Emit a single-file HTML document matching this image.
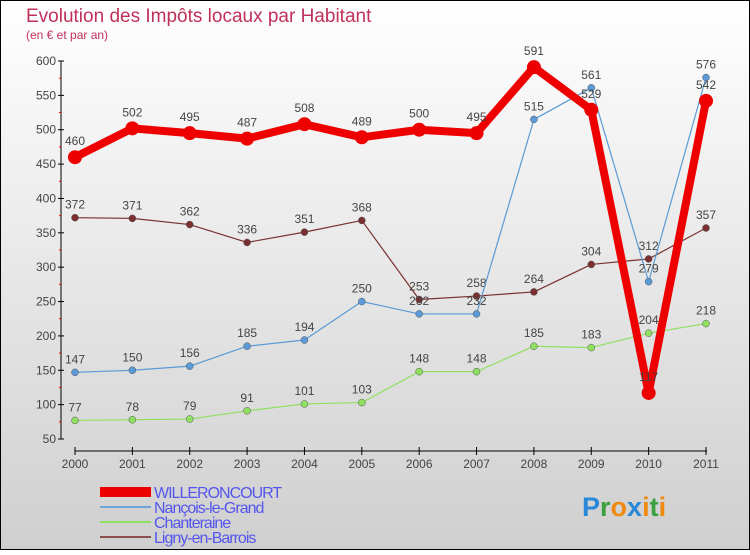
<!DOCTYPE html>
<html><head><meta charset="utf-8"><style>
html,body{margin:0;padding:0;}
body{width:750px;height:550px;overflow:hidden;font-family:"Liberation Sans",sans-serif;}
</style></head><body>
<svg id="chart" width="750" height="550" xmlns="http://www.w3.org/2000/svg">
<defs><linearGradient id="bg" x1="0" y1="0" x2="0" y2="1"><stop offset="0" stop-color="#ffffff"/><stop offset="1" stop-color="#cfcfcf"/></linearGradient></defs>
<rect x="0.5" y="0.5" width="749" height="549" fill="url(#bg)" stroke="#000" stroke-width="1"/>
<text x="26" y="22" font-size="19" fill="#c0305a">Evolution des Impôts locaux par Habitant</text>
<text x="26" y="39" font-size="12" fill="#c0305a">(en € et par an)</text>
<g id="axes"></g>
<g id="series"></g>
<g>
<rect x="100" y="487" width="51" height="10" fill="#e00"/>
<text x="154" y="498" font-size="16" fill="#5555ee" letter-spacing="-1">WILLERONCOURT</text>
<line x1="100" y1="507" x2="151" y2="507" stroke="#6fa5d6" stroke-width="2"/>
<text x="154" y="513" font-size="16" fill="#5555ee" letter-spacing="-1">Nançois-le-Grand</text>
<line x1="100" y1="522" x2="151" y2="522" stroke="#8fe060" stroke-width="2"/>
<text x="154" y="528" font-size="16" fill="#5555ee" letter-spacing="-1">Chanteraine</text>
<line x1="100" y1="537" x2="151" y2="537" stroke="#8a5050" stroke-width="2"/>
<text x="154" y="543" font-size="16" fill="#5555ee" letter-spacing="-1">Ligny-en-Barrois</text>
</g>
<text x="582" y="516" font-size="27" font-weight="bold"><tspan fill="#2a88d8">P</tspan><tspan fill="#3aa040">r</tspan><tspan fill="#f08a10">o</tspan><tspan fill="#2a88d8">x</tspan><tspan fill="#f08a10">i</tspan><tspan fill="#3aa040">t</tspan><tspan fill="#f08a10">i</tspan></text>
</svg>
<script>
const years=["2000","2001","2002","2003","2004","2005","2006","2007","2008","2009","2010","2011"];
const yTicks=[50,100,150,200,250,300,350,400,450,500,550,600];
const willeroncourt=[460,502,495,487,508,489,500,495,591,529,117,542];
const nancois=[147,150,156,185,194,250,232,232,515,561,279,576];
const chanteraine=[77,78,79,91,101,103,148,148,185,183,204,218];
const ligny=[372,371,362,336,351,368,253,258,264,304,312,357];

const NS="http://www.w3.org/2000/svg";
function xS(i){return 75+i*(706-75)/(years.length-1);}
function yS(v){return 439-(v-50)*(439-61)/550;}
function mk(tag,attrs,parent){const e=document.createElementNS(NS,tag);for(const k in attrs)e.setAttribute(k,attrs[k]);parent.appendChild(e);return e;}
const axes=document.getElementById('axes');
let ya=mk('line',{x1:61,y1:61,x2:61,y2:439,stroke:'#000','stroke-width':1},axes);


yTicks.forEach((t,i)=>{
  const y=yS(t);
  const tk=mk('line',{x1:58,y1:y,x2:64,y2:y,stroke:'#000'},axes);
  
  
  const tx=mk('text',{x:56,y:y+4,'font-size':12,'text-anchor':'end',fill:'#444'},axes);
  
  
  tx.textContent=t;
  if(i<yTicks.length-1){const m=mk('line',{x1:59,y1:yS(t+25),x2:61,y2:yS(t+25),stroke:'#e00'},axes);
  
  }
});
let xa=mk('line',{x1:75,y1:451,x2:707,y2:451,stroke:'#000'},axes);


years.forEach((yr,i)=>{
  const x=xS(i);
  const tk=mk('line',{x1:x,y1:447,x2:x,y2:455,stroke:'#000'},axes);
  
  
  const tx=mk('text',{x:x,y:468,'font-size':12,'text-anchor':'middle',fill:'#444'},axes);
  
  
  tx.textContent=yr;
});
const sg=document.getElementById('series');
function series(vals,color,w,r,name,labelOffset){
  const g=mk('g',{},sg);
  
  
  const pts=vals.map((v,i)=>xS(i)+','+yS(v)).join(' ');
  const pl=mk('polyline',{points:pts,fill:'none',stroke:color,'stroke-width':w,'stroke-linejoin':'round'},g);
  
  
  vals.forEach((v,i)=>{
    const c=mk('circle',{cx:xS(i),cy:yS(v),r:r,fill:color,stroke:w>3?'none':'#555','stroke-width':0.5},g);
    
    
    const t=mk('text',{x:xS(i),y:yS(v)-labelOffset,'font-size':12,'text-anchor':'middle',fill:'#444'},g);
    
    
    t.textContent=v;
  });
}
series(chanteraine,'#8fe060',1.2,3.5,'chanteraine',9);
series(ligny,'#7a3030',1.2,3.5,'ligny',9);
series(nancois,'#5a9ad6',1.2,3.5,'nancois',9);
series(willeroncourt,'#ee0000',8,7,'willeroncourt',12);
</script>
</body></html>
